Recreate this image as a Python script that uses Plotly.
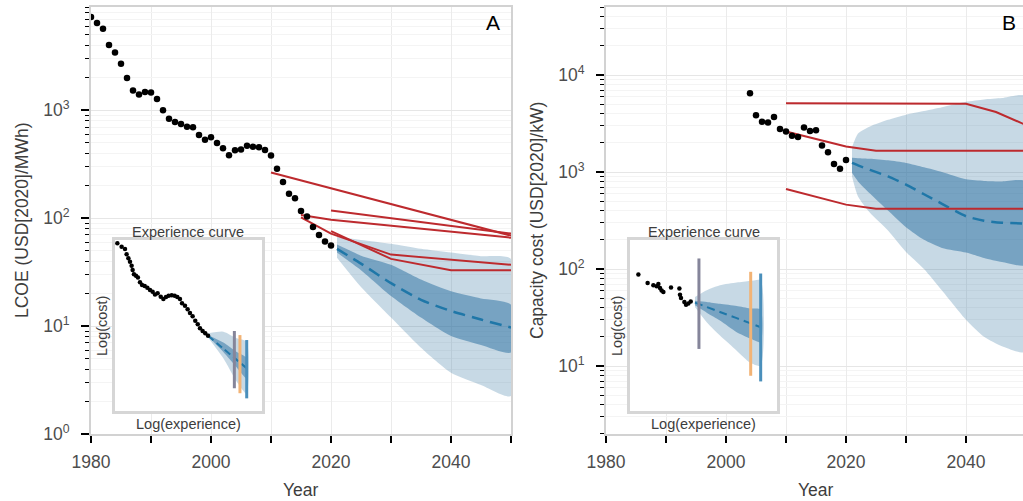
import plotly.graph_objects as go

W, H = 1023, 501

# ---------------- Panel A: LCOE ----------------
a_years = list(range(1980, 2021))
a_lcoe = [7330, 6440, 5700, 4030, 3440, 2700, 1995, 1530, 1406, 1480,
          1460, 1275, 1000, 838, 780, 748, 706, 696, 592, 535,
          562, 499, 445, 383, 426, 433, 471, 461, 454, 430,
          381, 288, 217, 169, 153, 117, 104, 83, 70, 61, 56]

a_fan_years = [2021, 2025, 2030, 2035, 2040, 2045, 2050]
a_median = [52, 38, 25, 17.5, 13.8, 11.5, 9.7]
a_dark_lo = [48, 33, 19, 12, 8.1, 6.7, 5.7]
a_dark_hi = [57, 45, 37, 27, 21, 18, 15.8]
a_light_lo = [43, 23, 12, 6.3, 3.7, 2.85, 2.25]
a_light_hi = [67, 63, 58, 52, 48, 44.5, 42]

a_proj = [
    ([2010, 2050], [265, 69]),
    ([2020, 2050], [118, 72]),
    ([2015, 2020, 2050], [107, 97, 66]),
    ([2015, 2020, 2030, 2050], [102, 72, 46, 37]),
    ([2020, 2030, 2040, 2050], [76, 42, 33, 33]),
]

# ---------------- Panel B: Capacity cost ----------------
b_years = list(range(2004, 2021))
b_cost = [6490, 3850, 3290, 3235, 3700, 2770, 2615, 2360, 2290, 2880,
          2640, 2700, 1875, 1600, 1208, 1082, 1330]

b_fan_years = [2021, 2022, 2024, 2027, 2030, 2033, 2036, 2040, 2043, 2046, 2050]
b_median = [1240, 1170, 1050, 900, 740, 590, 470, 350, 315, 300, 294]
b_dark_lo = [980, 800, 600, 400, 270, 200, 165, 148, 130, 118, 110]
b_dark_hi = [1400, 1390, 1370, 1320, 1240, 1120, 1000, 840, 810, 800, 800]
b_light_lo = [900, 560, 380, 250, 150, 100, 60, 30, 20, 16, 14]
b_light_hi = [1800, 2500, 2950, 3450, 3900, 4250, 4650, 5300, 5600, 5800, 6050]

b_proj = [
    ([2010, 2040, 2045, 2050], [5100, 5050, 4150, 3050]),
    ([2010, 2020, 2025, 2050], [2610, 1830, 1655, 1655]),
    ([2010, 2020, 2025, 2050], [669, 461, 417, 417]),
]

# ---------------- Insets (schematic experience curves, log-units 0..10) ----------------
ia_u = [0.16, 0.45, 0.68, 0.79, 0.91, 1.02, 1.13, 1.20, 1.29, 1.43, 1.56, 1.70, 1.84,
        2.02, 2.20, 2.38, 2.56, 2.72, 2.90, 3.11, 3.29, 3.47, 3.65, 3.86, 4.06, 4.24,
        4.42, 4.56, 4.76, 4.94, 5.10, 5.28, 5.46, 5.63, 5.78, 5.96, 6.14, 6.33]
ia_v = [9.81, 9.61, 9.47, 9.16, 8.93, 8.73, 8.50, 8.25, 7.99, 7.91, 7.80, 7.53, 7.37,
        7.31, 7.21, 7.08, 6.98, 6.82, 6.88, 6.68, 6.55, 6.67, 6.74, 6.77, 6.74, 6.67,
        6.55, 6.30, 6.16, 5.95, 5.73, 5.54, 5.28, 5.07, 4.84, 4.68, 4.54, 4.40]
ia_fan_u = [6.33, 7.37, 8.28, 8.96]
ia_median = [4.40, 3.65, 2.99, 2.50]
ia_dark_lo = [4.35, 3.45, 2.55, 1.90]
ia_dark_hi = [4.45, 4.00, 3.45, 3.10]
ia_light_lo = [4.30, 3.08, 1.71, 1.00]
ia_light_hi = [4.55, 4.64, 4.25, 4.05]
ia_bars = [(8.12, 1.33, 4.68, 'grey'), (8.50, 1.04, 4.44, 'orange'), (8.96, 0.74, 4.15, 'blue')]

ib_u = [0.57, 1.20, 1.59, 1.81, 1.93, 2.04, 2.15, 2.27, 2.79, 3.36, 3.40, 3.47, 3.70, 3.81, 3.97, 4.13]
ib_v = [7.98, 7.49, 7.35, 7.29, 7.43, 7.20, 7.04, 6.96, 7.22, 7.16, 6.80, 6.61, 6.37, 6.22, 6.29, 6.41]
ib_fan_u = [4.42, 5.22, 6.12, 7.26, 8.16, 8.89]
ib_median = [6.34, 6.08, 5.79, 5.43, 5.14, 4.90]
ib_dark_lo = [6.18, 5.75, 5.29, 4.61, 4.25, 4.02]
ib_dark_hi = [6.45, 6.38, 6.27, 6.14, 6.00, 5.95]
ib_light_lo = [6.08, 5.19, 4.41, 3.53, 2.84, 2.65]
ib_light_hi = [6.67, 7.06, 7.35, 7.51, 7.60, 7.65]
ib_bars = [(4.69, 3.63, 8.92, 'grey'), (8.21, 2.06, 8.14, 'orange'), (8.89, 1.73, 8.04, 'blue')]

# ---------------- styling ----------------
LIGHT = 'rgba(70,130,170,0.30)'
DARK = 'rgba(40,110,160,0.50)'
MED = '#1f77a8'
RED = '#bd2a2e'
BAR_COL = {'grey': '#85859a', 'orange': '#f2b375', 'blue': '#4a8fbb'}
FONT = 'Liberation Sans, Arial, sans-serif'
TICK_C = '#4d4d4d'
TITLE_C = '#3d3d3d'

TOP, BOT = 7, 434
PH = BOT - TOP


def px(x):
    return x / W


def py(y):
    return (BOT - y) / PH


fig = go.Figure()


def band(xs, lo, hi, color, xa, ya, smooth=True):
    fig.add_trace(go.Scatter(
        x=list(xs) + list(xs)[::-1], y=list(hi) + list(lo)[::-1],
        fill='toself', fillcolor=color, mode='lines',
        line=dict(width=0, shape='spline' if smooth else 'linear', smoothing=0.6),
        hoverinfo='skip', xaxis=xa, yaxis=ya))


def median(xs, ys, xa, ya, width=2.5, dash='12px,7px'):
    fig.add_trace(go.Scatter(x=xs, y=ys, mode='lines',
                             line=dict(color=MED, width=width, dash=dash, shape='spline', smoothing=0.6),
                             xaxis=xa, yaxis=ya))


# Panel A
band(a_fan_years, a_light_lo, a_light_hi, LIGHT, 'x', 'y')
band(a_fan_years, a_dark_lo, a_dark_hi, DARK, 'x', 'y')
median(a_fan_years, a_median, 'x', 'y')
for xs, ys in a_proj:
    fig.add_trace(go.Scatter(x=xs, y=ys, mode='lines', line=dict(color=RED, width=2), xaxis='x', yaxis='y'))
fig.add_trace(go.Scatter(x=a_years, y=a_lcoe, mode='markers',
                         marker=dict(color='black', size=6.5), xaxis='x', yaxis='y'))

# Panel B
band(b_fan_years, b_light_lo, b_light_hi, LIGHT, 'x2', 'y2')
band(b_fan_years, b_dark_lo, b_dark_hi, DARK, 'x2', 'y2')
median(b_fan_years, b_median, 'x2', 'y2')
for xs, ys in b_proj:
    fig.add_trace(go.Scatter(x=xs, y=ys, mode='lines', line=dict(color=RED, width=2), xaxis='x2', yaxis='y2'))
fig.add_trace(go.Scatter(x=b_years, y=b_cost, mode='markers',
                         marker=dict(color='black', size=6.5), xaxis='x2', yaxis='y2'))

# Inset A
band(ia_fan_u, ia_light_lo, ia_light_hi, LIGHT, 'x3', 'y3')
band(ia_fan_u, ia_dark_lo, ia_dark_hi, DARK, 'x3', 'y3')
median(ia_fan_u, ia_median, 'x3', 'y3', width=2, dash='7px,4px')
for u, v0, v1, c in ia_bars:
    fig.add_trace(go.Scatter(x=[u, u], y=[v0, v1], mode='lines',
                             line=dict(color=BAR_COL[c], width=3), xaxis='x3', yaxis='y3'))
fig.add_trace(go.Scatter(x=ia_u, y=ia_v, mode='markers',
                         marker=dict(color='black', size=4.5), xaxis='x3', yaxis='y3'))

# Inset B
band(ib_fan_u, ib_light_lo, ib_light_hi, LIGHT, 'x4', 'y4')
band(ib_fan_u, ib_dark_lo, ib_dark_hi, DARK, 'x4', 'y4')
median(ib_fan_u, ib_median, 'x4', 'y4', width=2, dash='8px,5px')
for u, v0, v1, c in ib_bars:
    fig.add_trace(go.Scatter(x=[u, u], y=[v0, v1], mode='lines',
                             line=dict(color=BAR_COL[c], width=3), xaxis='x4', yaxis='y4'))
fig.add_trace(go.Scatter(x=ib_u, y=ib_v, mode='markers',
                         marker=dict(color='black', size=4.5), xaxis='x4', yaxis='y4'))

# ---------------- axes ----------------
x_major = [1980, 2000, 2020, 2040]
x_minor = [1990, 2010, 2030, 2050]


def xaxis(domain, rng):
    return dict(domain=domain, range=rng, tickmode='array', tickvals=x_major,
                ticktext=[str(v) for v in x_major],
                ticks='outside', ticklen=7, tickwidth=2, tickcolor='black',
                minor=dict(tickmode='array', tickvals=x_minor, ticks='outside', ticklen=7,
                           tickwidth=2, tickcolor='black', showgrid=True,
                           gridcolor='#ebebeb', gridwidth=1),
                showline=True, linecolor='#d2d2d2', linewidth=2, mirror=True,
                showgrid=True, gridcolor='#ebebeb', gridwidth=1, zeroline=False,
                tickfont=dict(size=17.5, color=TICK_C, family=FONT),
                ticklabelstandoff=4, automargin=False, fixedrange=True)


def yaxis(rng, decades, mirror):
    minors = [m * 10 ** e for e in range(decades[0] - 1, decades[-1] + 1) for m in range(2, 10)]
    return dict(type='log', range=rng, tickmode='array',
                tickvals=[10 ** e for e in decades],
                ticktext=['10<sup>%d</sup>' % e for e in decades],
                ticks='outside', ticklen=8, tickwidth=2, tickcolor='black',
                showline=True, linecolor='#d2d2d2', linewidth=2, mirror=mirror,
                showgrid=True, gridcolor='#e6e6e6', gridwidth=1, zeroline=False,
                minor=dict(tickmode='array', tickvals=minors, ticks='outside', ticklen=4,
                           tickwidth=1, tickcolor='black', showgrid=True,
                           gridcolor='#f4f4f4', gridwidth=0.7),
                tickfont=dict(size=17.5, color=TICK_C, family=FONT),
                ticklabelstandoff=8, automargin=False, fixedrange=True)


def inset_axis(domain, anchor):
    return dict(domain=domain, anchor=anchor, range=[0, 10], showticklabels=False, ticks='',
                showgrid=False, zeroline=False, showline=True, mirror=True,
                linecolor='#d6d6d6', linewidth=2.5, fixedrange=True)


inset_y = [py(411), py(240)]

fig.update_layout(
    width=W, height=H, template='none',
    margin=dict(l=0, r=0, t=TOP, b=H - BOT, pad=0),
    paper_bgcolor='white', plot_bgcolor='white', showlegend=False,
    font=dict(family=FONT, color=TITLE_C),
    xaxis=xaxis([px(91), px(511)], [1980, 2050]) | dict(anchor='y'),
    yaxis=yaxis([0, 3.958], [0, 1, 2, 3], True) | dict(anchor='x'),
    xaxis2=xaxis([px(606), 1.0], [1980, 2049.5]) | dict(anchor='y2'),
    yaxis2=yaxis([0.299, 4.701], [1, 2, 3, 4], False) | dict(anchor='x2', domain=[0, 1]),
    xaxis3=inset_axis([px(115), px(262)], 'y3'),
    yaxis3=inset_axis(inset_y, 'x3'),
    xaxis4=inset_axis([px(630), px(777)], 'y4'),
    yaxis4=inset_axis(inset_y, 'x4'),
)


def ann(text, x, y, size, color=TITLE_C, angle=0):
    fig.add_annotation(text=text, x=px(x), y=py(y), xref='paper', yref='paper',
                       showarrow=False, xanchor='center', yanchor='middle', textangle=angle,
                       font=dict(size=size, color=color, family=FONT))


ann('A', 493, 22, 21, 'black')
ann('B', 1009, 22, 21, 'black')
ann('Year', 301, 490, 17.5)
ann('Year', 816, 490, 17.5)
ann('LCOE (USD[2020]/MWh)', 22, 221, 17.5, angle=-90)
ann('Capacity cost (USD[2020]/kW)', 537, 221, 17.5, angle=-90)
for cx in (188, 703.5):
    ann('Experience curve', cx, 231.5, 14.5)
    ann('Log(experience)', cx, 424, 14.5)
for cx in (102, 617):
    ann('Log(cost)', cx, 326, 14.5, angle=-90)

fig.write_html('out.html', config={'displayModeBar': False})
